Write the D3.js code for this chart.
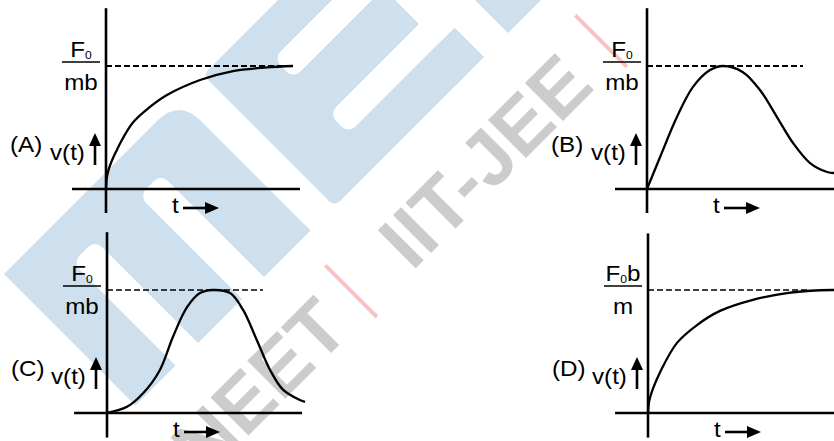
<!DOCTYPE html>
<html><head><meta charset="utf-8">
<script src="https://cdn.jsdelivr.net/npm/d3@7"></script>
<style>html,body{margin:0;padding:0;background:#fff;overflow:hidden}</style>
</head><body>
<svg id="c" width="834" height="441"></svg>
<script>
// ---------- data ----------
const panelNames = ["(A)", "(B)", "(C)", "(D)"];
const tA = [0, 0.04, 0.1, 0.21, 0.4, 0.59, 0.75, 1.44, 2.35, 3.26, 5.03, 6.79, 8.61, 10];
const vA = [0, 0.085, 0.135, 0.19, 0.26, 0.32, 0.37, 0.54, 0.667, 0.764, 0.886, 0.959, 0.988, 1];
const tB = [0, 0.70, 1.60, 2.46, 3.37, 4.06, 5.13, 6.04, 6.95, 7.81, 8.72, 9.63, 10];
const vB = [0, 0.26, 0.585, 0.83, 0.967, 1.0, 0.95, 0.805, 0.585, 0.374, 0.211, 0.138, 0.13];
const tC = [0, 1.07, 1.93, 2.83, 3.53, 4.28, 4.97, 5.67, 6.58, 7.27, 8.02, 8.72, 9.41, 10.32, 10.59];
const vC = [0, 0.05, 0.16, 0.35, 0.62, 0.86, 0.975, 1.0, 0.975, 0.84, 0.59, 0.35, 0.19, 0.105, 0.09];
const tD = [0, 0.05, 0.12, 0.27, 0.64, 1.55, 2.62, 3.85, 5.61, 7.43, 9.2, 9.95];
const vD = [0, 0.085, 0.13, 0.2, 0.33, 0.57, 0.715, 0.83, 0.92, 0.975, 0.998, 1.0];
const levelValue = 1;
const levelEnd = [10, 8.34, 8.34, 8.5];
const numBase = ["F", "F", "F", "F"];
const numSub = ["0", "0", "0", "0"];
const numTail = ["", "", "", "b"];
const denominators = ["mb", "mb", "mb", "m"];
const yLabel = "v(t)";
const xLabel = "t";
const wmWords = ["NEET", "IIT-JEE"];

// ---------- layout ----------
const series = [[tA, vA], [tB, vB], [tC, vC], [tD, vD]];
const origins = [[106, 189], [647, 189], [107, 413], [648, 413]];
const unitX = 18.7, unitY = 123;
const yExt = [[-0.195, 1.47], [-0.195, 1.47], [-0.2, 1.47], [-0.2, 1.46]];
const xExt = [[-1.82, 10.37], [-1.71, 10.6], [-1.76, 10.43], [-1.76, 10.6]];
const dashW = [2.2, 2.2, 1.7, 1.7];
const FONT = "'Liberation Sans', Arial, sans-serif";

const svg = d3.select("#c");

// ---------- watermark ----------
const blue = "#cedfed";
const wm = svg.append("g").attr("transform", "matrix(0.5,0.5,0.5,-0.5,0,0)");
wm.append("path").attr("fill", blue)
  .attr("d", "M278,-270 L278,36 Q278,80 322,80 L541,80 L541,-270 Z");
[[-57, -13], [-190, -145]].forEach(([d0, d1]) => {
  wm.append("rect").attr("fill", "#fff").attr("x", 335).attr("y", d0)
    .attr("width", 265).attr("height", d1 - d0).attr("rx", 14).attr("ry", 14);
});
wm.append("rect").attr("fill", blue).attr("x", 278).attr("y", 128)
  .attr("width", 263).attr("height", 267).attr("rx", 10).attr("ry", 10);
wm.append("rect").attr("fill", blue).attr("x", 482).attr("y", 370)
  .attr("width", 59).attr("height", 57);
wm.append("rect").attr("fill", blue).attr("x", 278).attr("y", 370)
  .attr("width", 54).attr("height", 430);
[[332, 372], [443, 482]].forEach(([s0, s1]) => {
  wm.append("rect").attr("fill", "#fff").attr("x", s0).attr("y", 215)
    .attr("width", s1 - s0).attr("height", 260).attr("rx", 14).attr("ry", 14);
});
wm.append("rect").attr("fill", blue).attr("x", 278).attr("y", 475)
  .attr("width", 263).attr("height", 200);

const wt = svg.append("g").attr("transform", "translate(342,342) rotate(-45)");
wt.append("text").attr("x", 14).attr("y", 0).attr("text-anchor", "end")
  .attr("font-family", FONT).attr("font-weight", "bold").attr("font-size", 78)
  .attr("fill", "#cccccc").text(wmWords[0]);
wt.append("text").attr("x", 99).attr("y", 0).attr("text-anchor", "start")
  .attr("font-family", FONT).attr("font-weight", "bold").attr("font-size", 78)
  .attr("fill", "#cccccc").text(wmWords[1]);
[42.4, 396].forEach(x => {
  wt.append("line").attr("x1", x).attr("x2", x).attr("y1", -66).attr("y2", 7)
    .attr("stroke", "#f6c4c4").attr("stroke-width", 4);
});

// ---------- panels ----------
series.forEach(([ts, vs], i) => {
  const [ox, oy] = origins[i];
  const x = d3.scaleLinear().domain([0, 10]).range([ox, ox + 10 * unitX]);
  const y = d3.scaleLinear().domain([0, 1]).range([oy, oy - unitY]);
  const g = svg.append("g");

  g.append("line").attr("x1", x(0)).attr("x2", x(0))
    .attr("y1", y(yExt[i][0])).attr("y2", y(yExt[i][1]))
    .attr("stroke", "#000").attr("stroke-width", 2.6);
  g.append("line").attr("x1", x(xExt[i][0])).attr("x2", x(xExt[i][1]))
    .attr("y1", y(0)).attr("y2", y(0))
    .attr("stroke", "#000").attr("stroke-width", 2.6);

  g.append("line").attr("x1", x(0)).attr("x2", x(levelEnd[i]))
    .attr("y1", y(levelValue)).attr("y2", y(levelValue))
    .attr("stroke", "#000").attr("stroke-width", dashW[i])
    .attr("stroke-dasharray", "6,3");

  const pts = ts.map((t, k) => [t, vs[k]]);
  g.append("path").datum(pts)
    .attr("fill", "none").attr("stroke", "#000").attr("stroke-width", 2.3)
    .attr("stroke-linejoin", "round")
    .attr("d", d3.line().x(d => x(d[0])).y(d => y(d[1])).curve(d3.curveCatmullRom.alpha(0.5)));

  const cx = ox - 25;
  const num = g.append("text").attr("transform", `translate(${cx},${oy - 132}) scale(1.1,1)`)
    .attr("text-anchor", "middle").attr("font-family", FONT).attr("font-size", 22).attr("fill", "#000");
  num.append("tspan").text(numBase[i]);
  num.append("tspan").attr("font-size", 11).attr("dy", 2).text(numSub[i]);
  if (numTail[i]) num.append("tspan").attr("dy", -2).text(numTail[i]);
  g.append("line").attr("x1", ox - 44).attr("x2", ox - 6)
    .attr("y1", oy - 127).attr("y2", oy - 127)
    .attr("stroke", "#000").attr("stroke-width", 1.4);
  g.append("text").attr("transform", `translate(${cx},${oy - 99}) scale(1.1,1)`)
    .attr("text-anchor", "middle").attr("font-family", FONT).attr("font-size", 22)
    .attr("fill", "#000").text(denominators[i]);

  g.append("text").attr("transform", `translate(${ox - 96},${oy - 37}) scale(1.1,1)`)
    .attr("font-family", FONT).attr("font-size", 22).attr("fill", "#000").text(panelNames[i]);
  g.append("text").attr("transform", `translate(${ox - 56},${oy - 29}) scale(1.1,1)`)
    .attr("font-family", FONT).attr("font-size", 22).attr("fill", "#000").text(yLabel);

  const ax = ox - 11;
  g.append("line").attr("x1", ax).attr("x2", ax).attr("y1", oy - 24).attr("y2", oy - 45)
    .attr("stroke", "#000").attr("stroke-width", 2.6);
  g.append("path").attr("fill", "#000")
    .attr("d", `M${ax},${oy - 56} L${ax + 6},${oy - 43} L${ax - 6},${oy - 43} Z`);

  g.append("text").attr("transform", `translate(${ox + 66},${oy + 24}) scale(1.1,1)`)
    .attr("font-family", FONT).attr("font-size", 22).attr("fill", "#000").text(xLabel);
  const ay = oy + 19;
  g.append("line").attr("x1", ox + 77).attr("x2", ox + 101).attr("y1", ay).attr("y2", ay)
    .attr("stroke", "#000").attr("stroke-width", 2.6);
  g.append("path").attr("fill", "#000")
    .attr("d", `M${ox + 113},${ay} L${ox + 99},${ay - 6} L${ox + 99},${ay + 6} Z`);
});
</script>
</body></html>
